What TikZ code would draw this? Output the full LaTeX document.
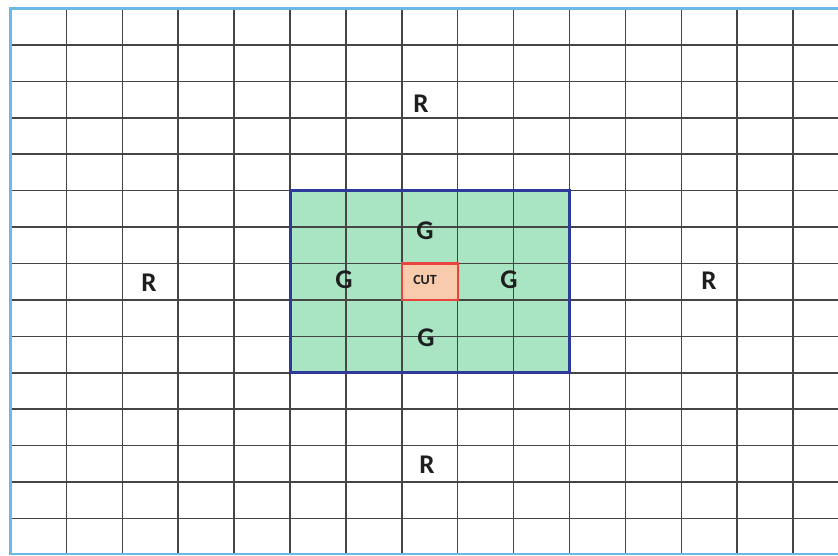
\documentclass[tikz,border=0pt]{standalone}
\usepackage{fontspec}
\setmainfont{Carlito}
\definecolor{gridcol}{HTML}{454545}
\definecolor{framecol}{HTML}{6CB8E6}
\definecolor{zonefill}{HTML}{A9E4C3}
\definecolor{zoneedge}{HTML}{2E3A9A}
\definecolor{cutfill}{HTML}{F8CBAD}
\definecolor{cutedge}{HTML}{E8433C}
\definecolor{labcol}{HTML}{1E1E1E}
\begin{document}
\begin{tikzpicture}[x=1pt,y=-1pt,
  gridline/.style={draw=gridcol, line width=1.5pt},
  frameline/.style={draw=framecol, line width=2.8pt},
  zonebox/.style={draw=zoneedge, line width=3pt},
  cutbox/.style={draw=cutedge, fill=cutfill, line width=2.4pt, minimum width=55.9pt, minimum height=36.4pt, inner sep=0pt},
  lab/.style={font=\bfseries\fontsize{27}{27}\selectfont, text=labcol, inner sep=0pt},
  smalllab/.style={font=\bfseries\fontsize{14}{14}\selectfont, text=labcol, inner sep=0pt}]
\useasboundingbox (0,0) rectangle (838,555);
\fill[white] (0,0) rectangle (838,555);
% green zone fill
\fill[zonefill] (290,190.6) rectangle (569.5,372.8);
% grid
\foreach \i in {1,...,14} \draw[gridline] (10.5+55.9*\i, 8.5) -- (10.5+55.9*\i, 554);
\foreach \j in {1,...,14} \draw[gridline] (10.5, 8.5+36.43*\j) -- (838, 8.5+36.43*\j);
% outer frame
\draw[frameline] (838,8.5) -- (10.5,8.5) -- (10.5,554) -- (838,554);
% green zone border
\draw[zonebox] (290,190.6) rectangle (569.5,372.8);
% cut cell
\node[cutbox] (cutcell) at (429.75,281.7) {};
\node[smalllab] (cut) at (425,280) {CUT};
% labels
\node[lab] (rtop) at (421,104) {R};
\node[lab] (rleft) at (149,283) {R};
\node[lab] (rright) at (709,281) {R};
\node[lab] (rbot) at (427,465) {R};
\node[lab] (gtop) at (425,231) {G};
\node[lab] (gleft) at (344,280) {G};
\node[lab] (gright) at (509,280) {G};
\node[lab] (gbot) at (426,338) {G};
\end{tikzpicture}
\end{document}
